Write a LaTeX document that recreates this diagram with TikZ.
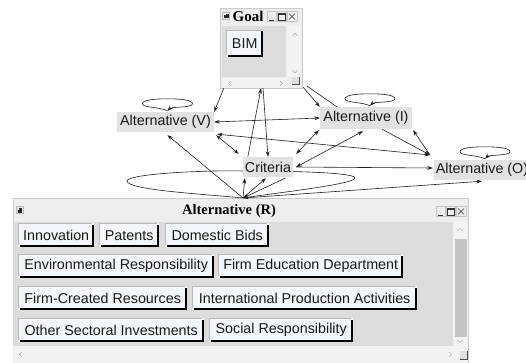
\documentclass[tikz,border=0pt]{standalone}
\usepackage{fontspec}
\setmainfont{Liberation Serif}
\setsansfont{Liberation Sans}
\usetikzlibrary{arrows.meta,calc}
\pgfdeclarelayer{winlayer}
\pgfdeclarelayer{edgelayer}
\pgfsetlayers{winlayer,edgelayer,main}
\definecolor{winbg}{HTML}{EEEEEE}
\definecolor{contentbg}{HTML}{DCDCDC}
\definecolor{trackbg}{HTML}{F3F3F3}
\definecolor{thumbbg}{HTML}{C4C4C4}
\definecolor{btnfill}{HTML}{F3F7FB}
\definecolor{lblfill}{HTML}{E2E2E2}
\definecolor{edgecol}{HTML}{1E1E1E}
\newcommand\mybtn[6]{%
  \node[btn,minimum width=#4pt,minimum height=#5pt] (#1) at (#2,#3) {#6};
  \draw[btnlight] ($(#1.south west)+(0.4,-2)$) -- ($(#1.north west)+(0.4,0.4)$) -- ($(#1.north east)+(-2,0.4)$);
  \draw[btnshadow] ($(#1.south west)+(1.5,-1)$) -- ($(#1.south east)+(-1,-1)$) -- ($(#1.north east)+(-1,1.5)$);
}
\newcommand\winctl[2]{%
  \draw[ctl] (#1+1,#2+8) -- (#1+6,#2+8);
  \draw[ctl] (#1+10,#2+1) rectangle (#1+17,#2+8);
  \draw[ctl] (#1+10,#2+2.5) -- (#1+17,#2+2.5);
  \draw[ctl] (#1+21,#2+1.5) -- (#1+27,#2+7.5);
  \draw[ctl] (#1+21,#2+7.5) -- (#1+27,#2+1.5);
  \draw[gray!45,line width=0.4pt] (#1-0.5,#2-0.5) rectangle (#1+8,#2+9.5);
  \draw[gray!45,line width=0.4pt] (#1+9,#2-0.5) rectangle (#1+18.5,#2+9.5);
  \draw[gray!45,line width=0.4pt] (#1+19.5,#2-0.5) rectangle (#1+29,#2+9.5);
}
\newcommand\winicon[2]{%
  \fill[gray!20] (#1,#2) rectangle (#1+7,#2+7);
  \draw[gray!55,line width=0.4pt] (#1,#2) rectangle (#1+7,#2+7);
  \fill[black!85] (#1+1.5,#2+1.5) rectangle (#1+6,#2+6);
  \fill[white] (#1+1.5,#2+1.5) rectangle (#1+3,#2+3);
}
\newcommand\selfloop[1]{%
  \draw[edge,arr] (#1) .. controls ($(#1)+(-8,-4)$) and ($(#1)+(-25,-3)$) .. ($(#1)+(-25,-7)$)
    .. controls ($(#1)+(-25,-11)$) and ($(#1)+(-12,-12)$) .. ($(#1)+(0,-12)$)
    .. controls ($(#1)+(12,-12)$) and ($(#1)+(25,-11)$) .. ($(#1)+(25,-7)$)
    .. controls ($(#1)+(25,-3)$) and ($(#1)+(4,-4)$) .. (#1);
}
\begin{document}
\begin{tikzpicture}[x=1pt,y=-1pt,
  lbl/.style={fill=lblfill,inner sep=0pt,font=\sffamily\fontsize{14.3}{16}\selectfont,text=black!90},
  btn/.style={fill=btnfill,inner sep=0pt,anchor=north west,font=\sffamily\fontsize{14.3}{16}\selectfont,text=black!90},
  btnlight/.style={draw=gray!55,line width=0.6pt},
  btnshadow/.style={draw=black,line width=2pt},
  ctl/.style={draw=black!80,line width=0.6pt},
  chev/.style={draw=gray!60,line width=0.6pt},
  edge/.style={draw=edgecol,line width=0.6pt},
  arr/.style={-{Stealth[length=5.5pt,width=3.8pt]}},
  arrboth/.style={{Stealth[length=5.5pt,width=3.8pt]}-{Stealth[length=5.5pt,width=3.8pt]}},
  wintitle/.style={font=\rmfamily\bfseries\fontsize{14.5}{16}\selectfont,inner sep=0pt}
]
\useasboundingbox (0,0) rectangle (526,363);

\begin{pgfonlayer}{winlayer}
\fill[white] (0,0) rectangle (526,363);
% ---- Goal window ----
\node[fill=winbg,draw=gray!40,line width=0.4pt,minimum width=82pt,minimum height=80pt,inner sep=0pt] (Goal) at (261,48) {};
\winicon{222.5}{12.5}
\node[wintitle,font=\rmfamily\bfseries\fontsize{15}{16}\selectfont] (goaltitle) at (248,16.5) {Goal};
\winctl{268}{12}
\fill[contentbg] (222,26) rectangle (286,77);
\fill[trackbg] (287,26) rectangle (301,77);
\draw[chev] (292.5,36) -- (295,33) -- (297.5,36);
\draw[chev] (292.5,70) -- (295,73) -- (297.5,70);
\fill[trackbg] (222,78) rectangle (287,88);
\draw[chev] (231,81) -- (228.5,83.5) -- (231,86);
\draw[chev] (280,81) -- (282.5,83.5) -- (280,86);
\fill[gray!25] (292,77) rectangle (299,85);
\draw[black!70,line width=1pt] (292,85) -- (299,85) -- (299,77);
\mybtn{bim}{226}{30}{37}{27}{BIM}

% ---- Alternative (R) window ----
\node[fill=winbg,draw=gray!40,line width=0.4pt,minimum width=455pt,minimum height=168pt,inner sep=0pt,anchor=north west] (AltR) at (13,198) {};
\winicon{16}{206.5}
\node[wintitle] (altrtitle) at (229,211.5) {Alternative (R)};
\winctl{437}{207}
\fill[contentbg] (13,222) rectangle (453,346);
\fill[trackbg] (453,222) rectangle (468,346);
\fill[thumbbg] (455,239) rectangle (467,337);
\draw[chev] (457.5,231) -- (460,228.5) -- (462.5,231);
\draw[chev] (457.5,340) -- (460,342.5) -- (462.5,340);
\fill[trackbg] (13,346) rectangle (468,363);
\draw[chev] (22,352) -- (19.5,354.5) -- (22,357);
\draw[chev] (449,352) -- (451.5,354.5) -- (449,357);
\fill[gray!25] (460,351) rectangle (467,359);
\draw[black!70,line width=1pt] (460,359) -- (467,359) -- (467,351);

\mybtn{b1}{18}{223}{76}{24}{Innovation}
\mybtn{b2}{99}{223}{60}{24}{Patents}
\mybtn{b3}{165}{223}{104}{24}{Domestic Bids}
\mybtn{b4}{18}{254}{196}{24}{Environmental Responsibility}
\mybtn{b5}{218}{254}{185}{24}{Firm Education Department}
\mybtn{b6}{18}{286}{169}{24}{Firm-Created Resources}
\mybtn{b7}{192}{286}{225}{24}{International Production Activities}
\mybtn{b8}{18}{318}{186}{24}{Other Sectoral Investments}
\mybtn{b9}{209}{318}{144}{24}{Social Responsibility}
\end{pgfonlayer}

% ---- graph nodes ----
\node[lbl,minimum width=97pt,minimum height=20pt] (AltV) at (165.5,122) {Alternative (V)};
\node[lbl,minimum width=92pt,minimum height=22pt] (AltI) at (366,118) {Alternative (I)};
\node[lbl,minimum width=50pt,minimum height=20pt] (Criteria) at (268,167) {Criteria};
\node[lbl,minimum width=96pt,minimum height=20pt] (AltO) at (482,170) {Alternative (O)};
\coordinate (D) at (430,155);
\coordinate (P) at (243,198);

\begin{pgfonlayer}{edgelayer}
\draw[edge,arr] ($(Goal.south west)+(4,0)$) -- (AltV.north east);
\draw[edge,arr] ($(Criteria.north west)+(5,0)$) -- (Goal.south);
\draw[edge,arr] ($(Goal.south)+(2,0)$) -- (Criteria.north);
\draw[edge,arr] ($(Goal.south east)+(1,-1)$) -- (AltI.north west);
\draw[edge] ($(AltI.north west)+(17,0)$) -- ($(Goal.south east)+(5,-2)$);
\draw[edge,arrboth] (AltI.west) -- (AltV.east);
\draw[edge,arrboth] ($(AltV.south east)+(2,3)$) -- ($(Criteria.north west)+(-4,-3)$);
\draw[edge,arrboth] (D) -- ($(AltV.south east)+(3,2)$);
\draw[edge,arr] ($(AltI.south)+(16,0)$) -- (D);
\draw[edge,arr] (D) -- ($(AltI.south east)+(1,1)$);
\draw[edge,arrboth] ($(Criteria.north east)+(3,-3)$) -- ($(AltI.south west)+(-1,1)$);
\draw[edge,arrboth] ($(Criteria.east)+(3,0)$) -- ($(AltI.south)+(-3,2)$);
\draw[edge,arr] ($(Criteria.east)+(3,0)$) -- ($(AltO.west)+(-1,-2)$);
\draw[edge,arr] (P) -- ($(AltV.south)+(2,3)$);
\draw[edge,arr] (P) -- ($(Criteria.south west)+(2,1)$);
\draw[edge,arr] (P) -- ($(Criteria.south)+(-2,1)$);
\draw[edge,arr] ($(Criteria.south east)+(-8,1)$) -- (P);
\draw[edge,arr] (P) -- ($(AltO.south)+(0,1)$);
\draw[edge,arr] (P) .. controls ($(P)+(-40,-4)$) and ($(P)+(-116,-8)$) .. ($(P)+(-116,-17)$)
  .. controls ($(P)+(-116,-24)$) and ($(P)+(-40,-28)$) .. ($(P)+(0,-27)$)
  .. controls ($(P)+(60,-27)$) and ($(P)+(112,-25)$) .. ($(P)+(112,-20)$)
  .. controls ($(P)+(112,-14)$) and ($(P)+(40,-6)$) .. (P);
\selfloop{$(AltV.north)+(2,-1)$}
\selfloop{$(AltI.north)+(4,-1)$}
\selfloop{$(AltO.north)+(3,-1)$}
\end{pgfonlayer}
\end{tikzpicture}
\end{document}
